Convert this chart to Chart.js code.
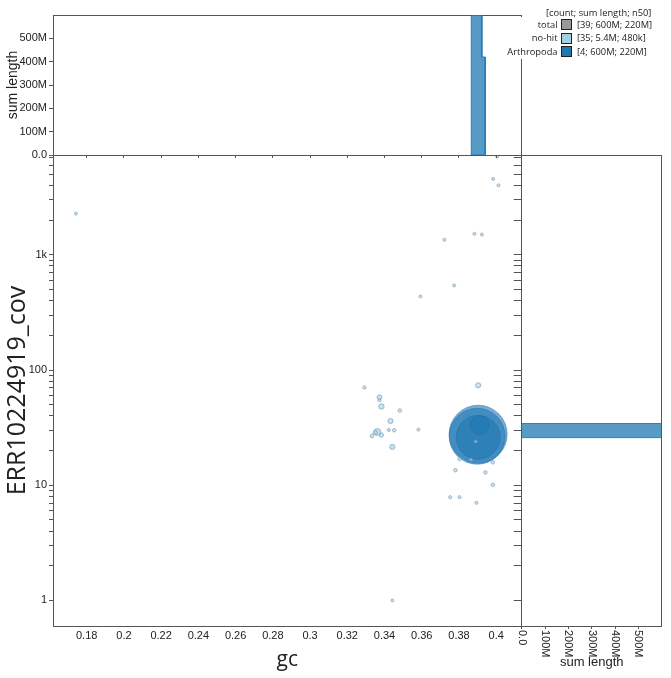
<!DOCTYPE html>
<html><head><meta charset="utf-8">
<script src="https://cdn.jsdelivr.net/npm/chart.js@4.4.0/dist/chart.umd.min.js"></script>
<style>
html,body{margin:0;padding:0;background:#fff;}
#wrap{position:relative;width:671px;height:678px;overflow:hidden;background:#fff;}
canvas{position:absolute;left:0;top:0;}
#legbg{position:absolute;left:505px;top:17px;width:166px;height:42px;background:#fff;}
.lt{position:absolute;font-family:"Open Sans";font-size:9.3px;color:#222;white-space:nowrap;line-height:12px;}
.sq{position:absolute;width:9px;height:9px;border:1.5px solid #222;}
</style></head><body>
<div id="wrap">
<canvas id="cMain" width="671" height="678"></canvas>
<canvas id="cTop" width="671" height="678"></canvas>
<canvas id="cRight" width="671" height="678"></canvas>
<div id="legbg"></div>
<div id="legend"></div>
</div>
<script>
// ---------- data ----------
const gcTicks = [0.18,0.2,0.22,0.24,0.26,0.28,0.3,0.32,0.34,0.36,0.38,0.4];
const covMajor = [1,10,100,1000];
const covMajorLabels = ['1','10','100','1k'];
const sumTicks = [0,100e6,200e6,300e6,400e6,500e6];
const sumTickLabels = ['0.0','100M','200M','300M','400M','500M'];

// no-hit contigs
const noHitGc  = [0.1742,0.3984,0.4012,0.4005,0.3722,0.3883,0.3923,0.3774,0.3593,0.3292,0.3373,0.3373,0.3383,0.3482,0.3432,0.3362,0.3351,0.3333,0.3383,0.3423,0.3452,0.3582,0.3442,0.3903,0.3803,0.3864,0.3982,0.3781,0.3942,0.3982,0.3753,0.3803,0.3894,0.3442,0.3890];
const noHitCov = [2280,4560,4010,7110,1349,1521,1500,542,435,70.4,58,54.6,48.2,44.5,36.1,29.0,28.7,26.8,27.3,30.2,30.0,30.4,21.5,73.7,16.9,16.7,15.8,13.5,12.9,10.1,7.88,7.88,7.04,1.0,24.0];
const noHitLen = [0.03,0.03,0.03,0.02,0.03,0.03,0.03,0.03,0.03,0.08,0.45,0.04,0.7,0.1,0.6,1.6,0.3,0.15,0.3,0.04,0.1,0.04,0.6,0.6,0.1,0.04,0.1,0.1,0.1,0.1,0.04,0.04,0.04,0.03,0.03].map(v=>v*1e6);

// Arthropoda contigs
const arthGc  = [0.3903,0.3898,0.3903,0.3911];
const arthCov = [27.7,26.6,26.1,33.2];
const arthLen = [233e6,216e6,130e6,21e6];

// histogram bins (Arthropoda), consecutive bins
const gcBinLo = [0.3866,0.3923], gcBinHi = [0.3923,0.3941], gcBinSum = [600e6,420e6];
const covBinLo = [25.9], covBinHi = [34.3], covBinSum = [600e6];

// legend
const legNames  = ['total','no-hit','Arthropoda'];
const legColors = ['#999999','#a6cee3','#1f78b4'];
const legStats  = ['[39; 600M; 220M]','[35; 5.4M; 480k]','[4; 600M; 220M]'];

// ---------- helpers ----------
const GC_MIN = 0.1619, GC_MAX = 0.4137;
const COV_MIN = 0.62, COV_MAX = 7350;
const SUM_MAX = 600e6;
const rad = L => 1.2 + 1.822*Math.sqrt(L/1e6);
const fmtGc = v => String(+(+v).toFixed(2));
const covTicks = [];
for (let d=1; d<=1000; d*=10) for (let m=1;m<=9;m++){ const v=d*m; if (v>=COV_MIN && v<=COV_MAX) covTicks.push(v); }
const TICKFONT = {family:'Liberation Sans', size:11};
const AX = '#555';
const BAR_FILL = 'rgba(31,120,180,0.75)', BAR_LINE = 'rgba(31,120,180,0.9)';
const base = {responsive:false, animation:false, devicePixelRatio:1, events:[],
  plugins:{legend:{display:false}, tooltip:{enabled:false}}};
function borderOnly(pos, size){
  return {type:'linear', position:pos, display:true, ticks:{display:false}, grid:{display:false},
    border:{display:true,color:AX,width:1}, afterFit:s=>{ if(pos==='top'||pos==='bottom') s.height=size; else s.width=size; }};
}
// step outline of a histogram built from its bins
function stepOutline(lo, hi, val){
  const pts = [{x:lo[0], y:0}];
  lo.forEach((l,i)=>{ pts.push({x:l, y:val[i]}); pts.push({x:hi[i], y:val[i]}); });
  pts.push({x:hi[hi.length-1], y:0}); pts.push({x:lo[0], y:0});
  return pts;
}

// ---------- main scatter ----------
new Chart(document.getElementById('cMain'), {
  type:'bubble',
  data:{datasets:[
    {label:'no-hit', data:noHitGc.map((g,i)=>({x:g,y:noHitCov[i],r:rad(noHitLen[i])})),
      backgroundColor:'rgba(166,206,227,0.6)', borderColor:'rgba(110,150,180,0.75)', borderWidth:0.8},
    {label:'Arthropoda', data:arthGc.map((g,i)=>({x:g,y:arthCov[i],r:rad(arthLen[i])})),
      backgroundColor:'rgba(31,120,180,0.6)', borderColor:'rgba(31,110,170,0.5)', borderWidth:1}
  ]},
  options:Object.assign({}, base, {
    clip:false,
    layout:{padding:{top:155,right:149.3,left:0,bottom:0}},
    scales:{
      x:{type:'linear',min:GC_MIN,max:GC_MAX,
        afterBuildTicks:s=>{s.ticks=gcTicks.map(v=>({value:v}));},
        afterFit:s=>{s.height=52;},
        grid:{display:false,drawTicks:false}, border:{display:true,color:AX,width:1},
        ticks:{font:TICKFONT,color:'#222',padding:3,maxRotation:0,autoSkip:false,callback:v=>fmtGc(v)},
        title:{display:true,text:'gc',font:{family:'Open Sans',size:21},color:'#222',padding:{top:0,bottom:5}}},
      y:{type:'logarithmic',min:COV_MIN,max:COV_MAX,
        afterBuildTicks:s=>{s.ticks=covTicks.map(v=>({value:v}));},
        afterFit:s=>{s.width=53;},
        grid:{display:true,drawOnChartArea:false,drawTicks:true,tickLength:4,color:AX},
        border:{display:true,color:AX,width:1},
        ticks:{font:TICKFONT,color:'#222',padding:2,autoSkip:false,
          callback:v=>{const k=covMajor.indexOf(+v); return k>=0?covMajorLabels[k]:'';}},
        title:{display:true,text:'ERR10224919_cov',font:{family:'Open Sans',size:25},color:'#222',padding:{top:3,bottom:0}}}
    }
  })
});

// ---------- top histogram (gc) ----------
new Chart(document.getElementById('cTop'), {
  type:'scatter',
  data:{datasets:[{xAxisID:'x', yAxisID:'y',
      data:stepOutline(gcBinLo, gcBinHi, gcBinSum),
      showLine:true, fill:'shape', backgroundColor:BAR_FILL, borderColor:BAR_LINE, borderWidth:1, pointRadius:0, tension:0}]},
  options:Object.assign({}, base, {
    layout:{padding:{top:15,right:149.3,left:0,bottom:0}},
    scales:{
      x:{type:'linear',position:'bottom',min:GC_MIN,max:GC_MAX,
        afterBuildTicks:s=>{s.ticks=gcTicks.map(v=>({value:v}));},
        afterFit:s=>{s.height=678-155;},
        ticks:{display:false}, grid:{display:true,drawOnChartArea:false,tickLength:3,color:AX},
        border:{display:true,color:AX,width:1}},
      xt:borderOnly('top',0),
      yr:borderOnly('right',0),
      y:{type:'linear',min:0,max:SUM_MAX,
        afterBuildTicks:s=>{s.ticks=sumTicks.map(v=>({value:v}));},
        afterFit:s=>{s.width=53;},
        grid:{display:true,drawOnChartArea:false,tickLength:4,color:AX},
        border:{display:true,color:AX,width:1},
        ticks:{font:TICKFONT,color:'#222',padding:2,autoSkip:false,
          callback:v=>{const k=sumTicks.indexOf(+v); return k>=0?sumTickLabels[k]:'';}},
        title:{display:true,text:'sum length',font:{family:'Liberation Sans',size:14},color:'#222',padding:{top:5,bottom:0}}}
    }
  })
});

// ---------- right histogram (coverage) ----------
const rotLabels = {
  id:'rotLabels',
  afterDraw(chart){
    const s = chart.scales.x, ctx = chart.ctx;
    ctx.save();
    ctx.font = '11px "Liberation Sans"'; ctx.fillStyle = '#222';
    ctx.textAlign = 'left'; ctx.textBaseline = 'middle';
    s.ticks.forEach(t=>{
      const k = sumTicks.indexOf(t.value); if (k<0) return;
      const x = s.getPixelForValue(t.value);
      ctx.save(); ctx.translate(x, s.top+4); ctx.rotate(Math.PI/2);
      ctx.fillText(sumTickLabels[k], 0, 0); ctx.restore();
    });
    ctx.restore();
  }
};
const rightSets = [];
covBinLo.forEach((lo,i)=>{
  rightSets.push({xAxisID:'x', yAxisID:'y', data:[{x:0,y:lo},{x:covBinSum[i],y:lo}], showLine:true, fill:'+1',
    backgroundColor:BAR_FILL, borderColor:BAR_LINE, borderWidth:1, pointRadius:0, tension:0});
  rightSets.push({xAxisID:'x', yAxisID:'y', data:[{x:0,y:covBinHi[i]},{x:covBinSum[i],y:covBinHi[i]}], showLine:true, fill:false,
    backgroundColor:BAR_FILL, borderColor:BAR_LINE, borderWidth:1, pointRadius:0, tension:0});
});
new Chart(document.getElementById('cRight'), {
  type:'scatter',
  data:{datasets:rightSets},
  options:Object.assign({}, base, {
    layout:{padding:{top:155,right:9.3,left:521.7,bottom:0}},
    scales:{
      x:{type:'linear',position:'bottom',min:0,max:SUM_MAX,
        afterBuildTicks:s=>{s.ticks=sumTicks.map(v=>({value:v}));},
        afterFit:s=>{s.height=52;},
        ticks:{display:false}, grid:{display:true,drawOnChartArea:false,tickLength:3,color:AX},
        border:{display:true,color:AX,width:1},
        title:{display:true,text:'sum length',font:{family:'Liberation Sans',size:13},color:'#222',padding:{top:0,bottom:8}}},
      xt:borderOnly('top',0),
      yr:borderOnly('right',0),
      y:{type:'logarithmic',position:'left',min:COV_MIN,max:COV_MAX,
        afterBuildTicks:s=>{s.ticks=covTicks.map(v=>({value:v}));},
        afterFit:s=>{s.width=0;},
        ticks:{display:false}, grid:{display:true,drawOnChartArea:false,tickLength:8,color:AX},
        border:{display:true,color:AX,width:1}}
    }
  }),
  plugins:[rotLabels]
});

// ---------- legend ----------
(function(){
  const L = document.getElementById('legend');
  let h = '<div class="lt" style="left:546px;top:7px">[count; sum length; n50]</div>';
  legNames.forEach((n,i)=>{
    const cy = 24.5 + i*13.7;
    h += `<div class="lt" style="right:${671-557.5}px;top:${cy-6}px;text-align:right">${n}</div>`;
    h += `<div class="sq" style="left:560.5px;top:${cy-5.5}px;background:${legColors[i]}"></div>`;
    h += `<div class="lt" style="left:577px;top:${cy-6}px">${legStats[i]}</div>`;
  });
  L.innerHTML = h;
})();
</script>
</body></html>
